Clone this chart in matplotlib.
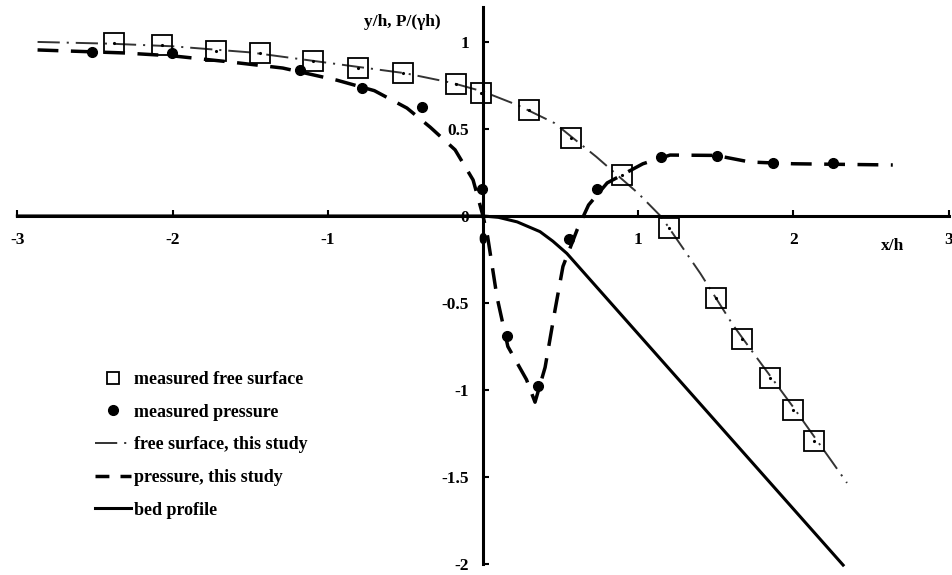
import numpy as np
import matplotlib
matplotlib.use("Agg")
import matplotlib.pyplot as plt
from matplotlib.lines import Line2D

plt.rcParams['font.family'] = ['Liberation Serif', 'DejaVu Serif']
plt.rcParams['font.weight'] = 'bold'
plt.rcParams['axes.unicode_minus'] = False
plt.rcParams['lines.scale_dashes'] = False

# measured free surface (squares)
fs_x = [-2.378, -2.068, -1.72, -1.437, -1.095, -0.805, -0.515, -0.174, -0.013,
        0.296, 0.567, 0.896, 1.198, 1.501, 1.669, 1.849, 1.997, 2.133]
fs_y = [0.994, 0.983, 0.948, 0.937, 0.891, 0.851, 0.822, 0.759, 0.707,
        0.609, 0.448, 0.236, -0.069, -0.471, -0.707, -0.931, -1.115, -1.293]

# measured pressure (dots)
pr_x = [-2.52, -2.004, -1.18, -0.78, -0.393, -0.006, 0.155, 0.354, 0.554,
        0.735, 1.147, 1.508, 1.87, 2.255]
pr_y = [0.943, 0.937, 0.839, 0.735, 0.626, 0.155, -0.69, -0.977, -0.132,
        0.155, 0.339, 0.345, 0.304, 0.304]

# free surface, this study
fsm_x = [-2.87, -2.4, -2.0, -1.5, -1.0, -0.5, -0.2, 0.0, 0.22, 0.46, 0.73,
         1.0, 1.15, 1.4, 1.61, 1.77, 2.0, 2.255, 2.345]
fsm_y = [1.0, 0.99, 0.975, 0.94, 0.88, 0.82, 0.765, 0.715, 0.638, 0.534, 0.34,
         0.13, -0.006, -0.33, -0.626, -0.822, -1.10, -1.42, -1.534]

# pressure, this study
prm_x = [-2.87, -2.32, -2.0, -1.63, -1.29, -0.94, -0.7, -0.49, -0.34, -0.18,
         -0.064, 0.0, 0.03, 0.09, 0.16, 0.28, 0.335, 0.40, 0.464, 0.515, 0.606,
         0.68, 0.8, 1.03, 1.205, 1.5, 1.72, 2.0, 2.64]
prm_y = [0.954, 0.937, 0.92, 0.885, 0.85, 0.78, 0.72, 0.62, 0.51, 0.38,
         0.207, 0.0, -0.12, -0.466, -0.75, -0.94, -1.07, -0.87, -0.54, -0.29, -0.08,
         0.063, 0.19, 0.30, 0.35, 0.348, 0.31, 0.30, 0.293]

# bed profile
bed_x = [-3.0, 0.0, 0.1, 0.22, 0.367, 0.45, 0.54, 2.32]
bed_y = [0.0, 0.0, -0.008, -0.034, -0.09, -0.145, -0.215, -2.006]

xticks = [-3, -2, -1, 0, 1, 2, 3]
xtick_labels = ['-3', '-2', '-1', '0', '1', '2', '3']
yticks = [-2, -1.5, -1, -0.5, 0, 0.5, 1]
ytick_labels = ['-2', '-1.5', '-1', '-0.5', '0', '0.5', '1']

fig = plt.figure(figsize=(9.53, 5.75), dpi=100)
ax = fig.add_axes([0, 0, 1, 1])
ax.set_xlim(-3.112, 3.028)
ax.set_ylim(-2.063, 1.241)

for s in ['top', 'right']:
    ax.spines[s].set_visible(False)
ax.spines['left'].set_position(('data', 0))
ax.spines['bottom'].set_position(('data', 0))
ax.spines['left'].set_bounds(-2, 1.2)
ax.spines['bottom'].set_bounds(-3, 3)
for s in ['left', 'bottom']:
    ax.spines[s].set_linewidth(2.2)

ax.set_xticks(xticks)
ax.set_xticklabels(xtick_labels)
ax.set_yticks(yticks)
ax.set_yticklabels(ytick_labels)
ax.tick_params(direction='in', length=4, width=1.5, labelsize=12.5)
ax.tick_params(axis='x', pad=11.5)
ax.tick_params(axis='y', pad=10)

ax.plot(prm_x, prm_y, color='black', lw=2.5, dashes=(15, 9), zorder=2)
ax.plot(fsm_x, fsm_y, color='#333333', lw=1.4, dashes=(16, 5, 1.5, 5), zorder=2)
ax.plot(bed_x, bed_y, color='black', lw=2.2, zorder=3)
ax.plot(fs_x, fs_y, ls='none', marker='s', ms=14.5, mfc='none', mec='black',
        mew=1.3, zorder=4)
ax.plot(fs_x, fs_y, ls='none', marker='.', ms=2.5, color='black', zorder=4)
ax.plot(pr_x, pr_y, ls='none', marker='o', ms=7, color='black', zorder=4)

ax.text(2.64, -0.17, 'x/h', fontsize=12.5, ha='center', va='center')
ax.text(-0.52, 1.115, 'y/h, P/(\u03b3h)', fontsize=12.5, ha='center', va='center')

handles = [
    Line2D([], [], ls='none', marker='s', ms=9, mfc='none', mec='black', mew=1.3),
    Line2D([], [], ls='none', marker='o', ms=7, color='black'),
    Line2D([], [], color='#333333', lw=1.4, dashes=(16, 5, 1.5, 5)),
    Line2D([], [], color='black', lw=2.5, dashes=(10, 8)),
    Line2D([], [], color='black', lw=2.2),
]
labels = ['measured free surface', 'measured pressure', 'free surface, this study',
          'pressure, this study', 'bed profile']
ax.legend(handles, labels, loc='upper left', bbox_to_anchor=(0.0997, 0.355),
          bbox_transform=fig.transFigure, frameon=False, fontsize=13,
          handlelength=2.0, handletextpad=0.15, labelspacing=0.87,
          borderpad=0, borderaxespad=0)

fig.savefig('out.png', dpi=100)
